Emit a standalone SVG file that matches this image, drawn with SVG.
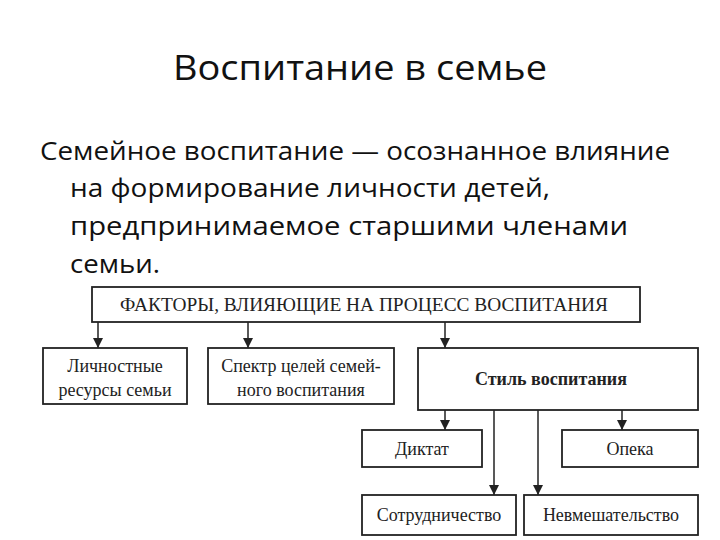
<svg xmlns="http://www.w3.org/2000/svg" width="720" height="540" viewBox="0 0 720 540">
<style>
.t{font-family:"Open Sans","DejaVu Sans",sans-serif;fill:#111}
.b{fill:#fff;stroke:#222;stroke-width:1.8}
.d{font-family:"Liberation Serif",serif;font-size:18px;fill:#222;text-anchor:middle}
.c{stroke:#222;stroke-width:1.5;fill:none;marker-end:url(#a)}
</style>
<defs><marker id="a" viewBox="0 0 10 10" refX="10" refY="5" markerWidth="12" markerHeight="10" orient="auto" markerUnits="userSpaceOnUse"><path d="M0,0L10,5L0,10z" fill="#222"/></marker></defs>
<rect width="720" height="540" fill="#fff"/>
<text class="t" x="360" y="80" font-size="34" text-anchor="middle" textLength="374" lengthAdjust="spacingAndGlyphs">Воспитание в семье</text>
<g class="t" font-size="25">
<text x="40" y="160" textLength="630" lengthAdjust="spacingAndGlyphs">Семейное воспитание — осознанное влияние</text>
<text x="70" y="197" textLength="480" lengthAdjust="spacingAndGlyphs">на формирование личности детей,</text>
<text x="70" y="235" textLength="558" lengthAdjust="spacingAndGlyphs">предпринимаемое старшими членами</text>
<text x="70" y="273" textLength="90" lengthAdjust="spacingAndGlyphs">семьи.</text>
</g>
<g id="connectors">
<path class="c" d="M98,322V348"/>
<path class="c" d="M248,322V348"/>
<path class="c" d="M445,322V348"/>
<path class="c" d="M445,410V430"/>
<path class="c" d="M494,410V495"/>
<path class="c" d="M538,410V495"/>
<path class="c" d="M622,410V430"/>
</g>
<g id="factors"><rect class="b" x="92" y="287" width="548" height="35"/><text class="d" x="364" y="311" textLength="488" lengthAdjust="spacingAndGlyphs">ФАКТОРЫ, ВЛИЯЮЩИЕ НА ПРОЦЕСС ВОСПИТАНИЯ</text></g>
<g id="resources"><rect class="b" x="43" y="348" width="144" height="56"/><text class="d" x="115" y="372">Личностные</text><text class="d" x="115" y="396">ресурсы семьи</text></g>
<g id="goals"><rect class="b" x="208" y="348" width="186" height="56"/><text class="d" x="301" y="372">Спектр целей семей-</text><text class="d" x="301" y="396">ного воспитания</text></g>
<g id="style"><rect class="b" x="418" y="348" width="280" height="62"/><text class="d" x="551" y="385" font-weight="bold">Стиль воспитания</text></g>
<g id="diktat"><rect class="b" x="362" y="430" width="120" height="37"/><text class="d" x="422" y="455">Диктат</text></g>
<g id="opeka"><rect class="b" x="562" y="430" width="136" height="37"/><text class="d" x="630" y="455">Опека</text></g>
<g id="coop"><rect class="b" x="362" y="495" width="154" height="40"/><text class="d" x="439" y="521">Сотрудничество</text></g>
<g id="nonint"><rect class="b" x="524" y="495" width="174" height="40"/><text class="d" x="611" y="521">Невмешательство</text></g>
</svg>
